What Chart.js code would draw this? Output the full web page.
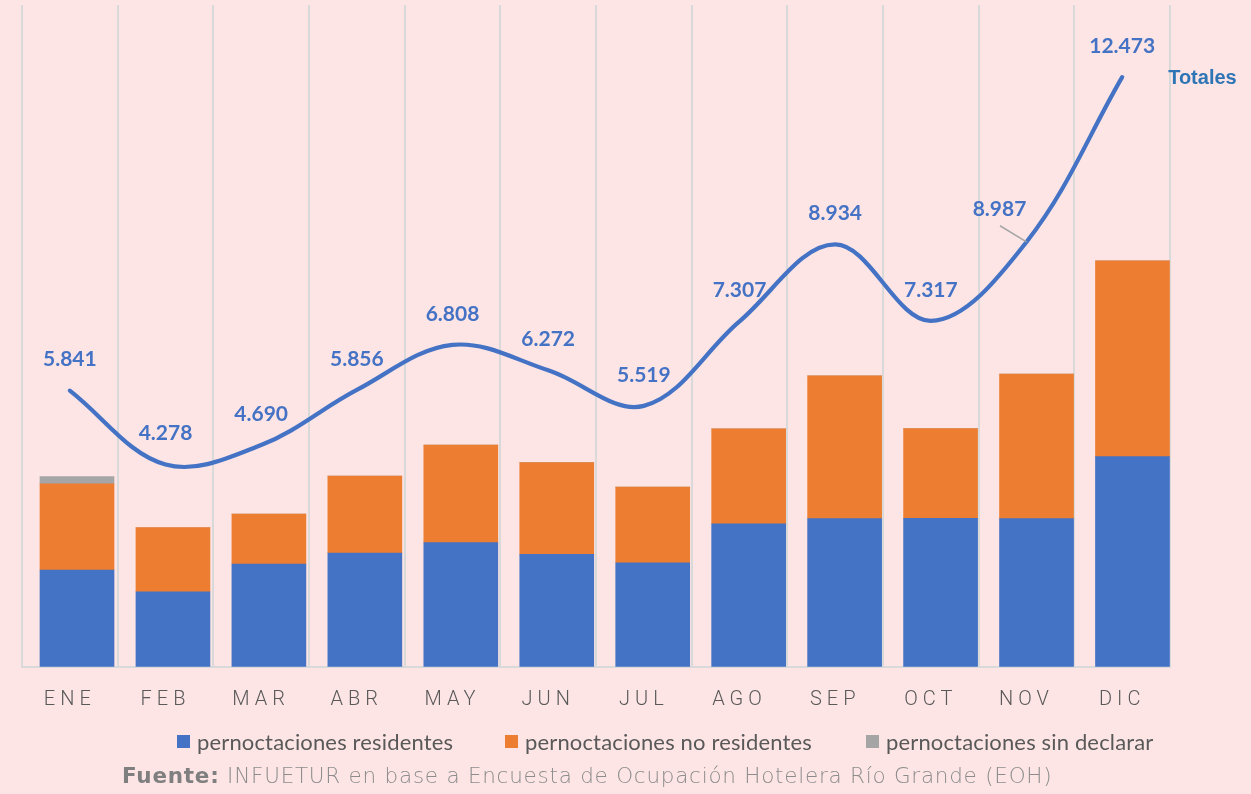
<!DOCTYPE html>
<html><head><meta charset="utf-8">
<script src="https://cdn.jsdelivr.net/npm/chart.js@4"></script>
<style>
html,body{margin:0;padding:0;background:#FDE5E5;}
#wrap{position:relative;width:1251px;height:794px;overflow:hidden;background:#FDE5E5;}
#c{position:absolute;left:0;top:0;}
.lg{position:absolute;top:727px;height:28px;display:flex;align-items:center;font-family:Lato,'Noto Sans',sans-serif;font-size:22px;letter-spacing:0.15px;color:#595959;white-space:nowrap;}
.lg i{display:inline-block;width:13px;height:13px;margin-right:7px;}
#src{position:absolute;left:122px;top:763px;font-family:'DejaVu Sans',sans-serif;font-weight:300;font-size:21.5px;letter-spacing:0.75px;color:#8C8C8C;white-space:nowrap;line-height:26px;}
#src b{color:#7F7F7F;font-weight:700;}
</style></head>
<body><div id="wrap"><canvas id="c" width="1251" height="794"></canvas>
<div id="legend"></div>
<div id="src"><b>Fuente:</b> INFUETUR en base a Encuesta de Ocupación Hotelera Río Grande (EOH)</div>
</div>
<script>
const categories = ['ENE','FEB','MAR','ABR','MAY','JUN','JUL','AGO','SEP','OCT','NOV','DIC'];
const residentes   = [2971,2304,3155,3493,3810,3453,3195,4393,4547,4559,4547,6452];
const noResidentes = [2646,1974,1535,2363,2998,2819,2324,2914,4387,2758,4440,6021];
const sinDeclarar  = [224,0,0,0,0,0,0,0,0,0,0,0];
const totales      = [5841,4278,4690,5856,6808,6272,5519,7307,8934,7317,8987,12473];
const seriesNames  = ['pernoctaciones residentes','pernoctaciones no residentes','pernoctaciones sin declarar'];
const lineName     = 'Totales';
const colors       = ['#4472C4','#ED7D31','#A5A5A5'];

function fmt(v){ return String(v).replace(/\B(?=(\d{3})+(?!\d))/g,'.'); }
const toXY = arr => arr.map((v,i)=>({x:i,y:v}));

const labelsPlugin = {
  id:'totLabels',
  afterDatasetsDraw(chart, args, opts){
    const idx = chart.data.datasets.findIndex(d=>d.type==='line');
    const meta = chart.getDatasetMeta(idx);
    const ctx = chart.ctx;
    ctx.save();
    meta.data.forEach((pt,i)=>{
      const off = opts.offsets[i] || [0,-31];
      const x = pt.x+off[0], y = pt.y+off[1];
      if (opts.offsets[i]) {
        ctx.strokeStyle = '#A6A6A6'; ctx.lineWidth = 1.5;
        ctx.beginPath(); ctx.moveTo(x+0.5, y+16.5); ctx.lineTo(pt.x, pt.y); ctx.stroke();
      }
      ctx.font = opts.font; ctx.fillStyle = opts.color;
      ctx.textAlign='center'; ctx.textBaseline='middle';
      ctx.fillText(fmt(totales[i]), x, y);
    });
    const last = meta.data[meta.data.length-1];
    ctx.font = opts.nameFont; ctx.fillStyle = opts.nameColor;
    ctx.textAlign='left'; ctx.textBaseline='middle';
    ctx.fillText(lineName, last.x+46, last.y+1.5);
    ctx.restore();
  }
};

const barCommon = {type:'bar', xAxisID:'xb', yAxisID:'y', barThickness:74, grouped:false,
                   categoryPercentage:1, barPercentage:1, order:1};

const chart = new Chart(document.getElementById('c'), {
  data:{
    labels: categories,
    datasets:[
      {type:'line', label:lineName, data:totales, xAxisID:'x', yAxisID:'y2', borderColor:'#4472C4', borderWidth:4.2,
       pointRadius:0, tension:0.36, borderCapStyle:'round', fill:false, order:0},
      Object.assign({label:seriesNames[0], data:toXY(residentes), backgroundColor:colors[0]}, barCommon),
      Object.assign({label:seriesNames[1], data:toXY(noResidentes), backgroundColor:colors[1]}, barCommon),
      Object.assign({label:seriesNames[2], data:toXY(sinDeclarar), backgroundColor:colors[2]}, barCommon)
    ]
  },
  options:{
    responsive:false, animation:false,
    layout:{padding:{left:22,right:81,top:5,bottom:0}},
    plugins:{
      legend:{display:false}, tooltip:{enabled:false},
      totLabels:{font:'bold 21px Lato', color:'#4472C4', nameFont:'bold 20px "Liberation Sans"', nameColor:'#2E75B6', offsets:{10:[-27,-32.7]}}
    },
    scales:{
      x:{type:'category', position:'bottom', offset:true,
         grid:{offset:true, color:'#D9D9D9', lineWidth:2, drawTicks:false},
         border:{display:true, color:'#D9D9D9', width:2},
         ticks:{color:'#595959', font:{family:'Roboto', weight:'300', size:20}, padding:21},
         afterFit(s){ s.height = 794-666.7; }},
      xb:{type:'linear', display:false, stacked:true, offset:false, bounds:'data', grace:0, beginAtZero:false,
          min:-0.5732, max:11.391, grid:{offset:false},
          afterBuildTicks(s){ s.ticks = []; }},
      y:{type:'linear', display:false, stacked:true, min:0, max:20330},
      y2:{type:'linear', display:false, min:0, max:14000}
    }
  },
  plugins:[labelsPlugin]
});

const xs = chart.scales.x;
const origDraw = xs.drawLabels;
xs.drawLabels = function(area){ const ctx=this.ctx; ctx.save(); ctx.letterSpacing='5px'; origDraw.call(this, area); ctx.restore(); };
chart.draw();

const lg = document.getElementById('legend');
const lgLeft = [177,505,866];
seriesNames.forEach((n,i)=>{
  const d = document.createElement('div'); d.className='lg'; d.style.left=lgLeft[i]+'px';
  const sq = document.createElement('i'); sq.style.background=colors[i];
  d.appendChild(sq); d.appendChild(document.createTextNode(n)); lg.appendChild(d);
});
</script>
</body></html>
